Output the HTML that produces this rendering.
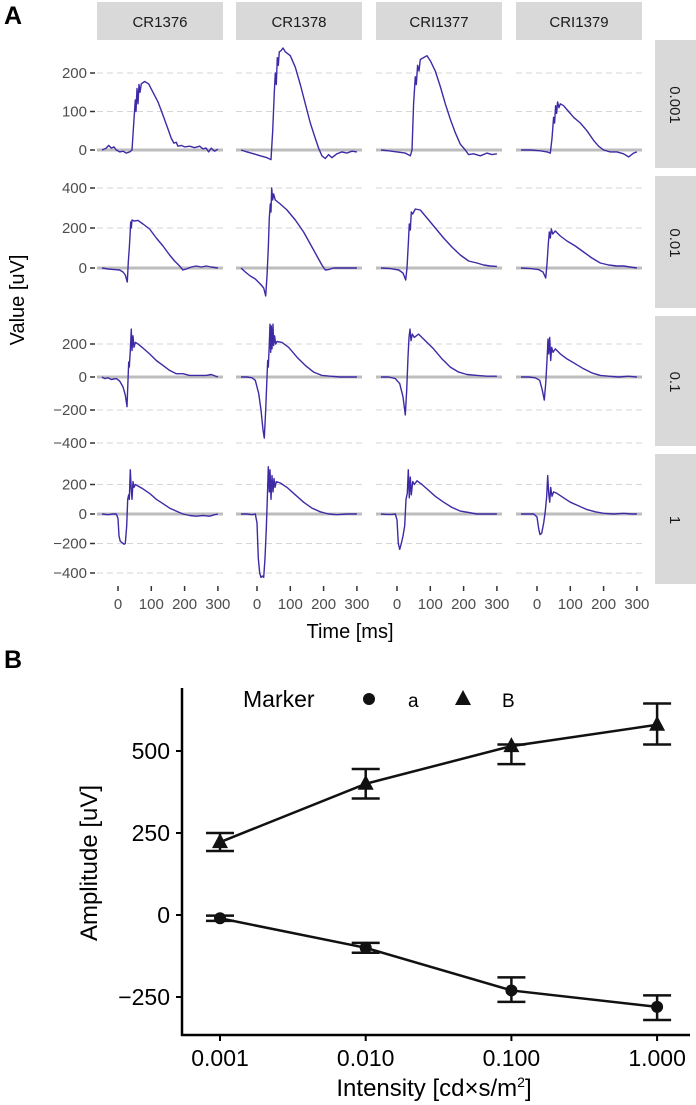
<!DOCTYPE html>
<html><head><meta charset="utf-8">
<style>
html,body{margin:0;padding:0;background:#fff;overflow:hidden;}
svg{display:block;font-family:"Liberation Sans",sans-serif;}
</style></head>
<body>
<svg id="fig" width="696" height="1105" viewBox="0 0 696 1105">
<text x="4" y="24" font-size="25" font-weight="bold" fill="#000">A</text>
<text x="4" y="668" font-size="25" font-weight="bold" fill="#000">B</text>
<g id="pa"></g>
<g id="pb"></g>
</svg>
<script>
const NS="http://www.w3.org/2000/svg";
const columns=["CR1376","CR1378","CRI1377","CRI1379"];
const rowLabels=["0.001","0.01","0.1","1"];
const timeTicks=[0,100,200,300];
const rowTicks=[[0,100,200],[0,200,400],[200,0,-200,-400],[200,0,-200,-400]];
// waveforms [time, value] per row, per column
const waves=[
[
 [[-48,0],[-35,5],[-28,12],[-20,5],[-12,8],[-5,0],[5,-5],[15,-3],[25,-8],[35,-5],[42,0],[48,80],[52,130],[54,100],[57,160],[60,120],[63,170],[66,150],[70,172],[80,178],[92,172],[105,150],[120,125],[135,90],[150,55],[160,30],[168,18],[175,20],[180,10],[190,12],[200,8],[215,10],[230,6],[245,10],[255,3],[265,5],[272,-5],[280,5],[290,-3],[300,2]],
 [[-48,0],[-30,-5],[-10,-10],[10,-15],[30,-20],[42,-25],[47,50],[52,150],[55,200],[58,170],[61,240],[64,220],[67,255],[72,258],[78,265],[85,255],[100,245],[115,215],[130,170],[145,120],[160,70],[175,30],[185,5],[195,-15],[205,-22],[215,-12],[225,-20],[240,-10],[255,-5],[270,-8],[285,-3],[300,-5]],
 [[-48,0],[-25,-2],[0,-5],[25,-8],[40,-15],[45,0],[50,120],[55,190],[58,170],[62,220],[66,205],[70,235],[80,240],[90,245],[100,232],[115,205],[130,165],[145,120],[160,80],[175,45],[190,15],[205,0],[215,-12],[230,-10],[250,-15],[270,-8],[285,-12],[300,-10]],
 [[-48,0],[-20,0],[10,-2],[30,-5],[40,-8],[45,30],[50,85],[53,70],[56,115],[59,95],[62,125],[66,110],[70,120],[80,115],[95,100],[110,85],[130,70],[150,50],[170,25],[185,10],[200,0],[220,-5],[240,-5],[260,-10],[275,-18],[290,-8],[300,-5]]
],
[
 [[-48,0],[-30,-5],[-10,-8],[5,-10],[15,-20],[22,-35],[28,-70],[31,30],[34,100],[36,160],[38,230],[40,200],[42,240],[48,235],[60,238],[75,220],[95,195],[115,150],[135,110],[155,65],[170,35],[185,10],[195,-10],[205,-5],[220,5],[235,10],[250,5],[265,10],[280,5],[300,0]],
 [[-48,0],[-35,-20],[-20,-40],[-5,-55],[10,-80],[20,-100],[26,-140],[30,-40],[34,100],[37,250],[40,320],[42,280],[44,400],[47,340],[50,370],[55,340],[70,320],[90,290],[115,240],[140,180],[160,120],[180,60],[195,15],[205,-10],[215,-8],[230,0],[250,0],[270,0],[300,0]],
 [[-48,0],[-20,-3],[5,-10],[18,-25],[26,-60],[30,0],[34,120],[37,220],[40,190],[43,280],[47,270],[55,295],[70,290],[90,250],[115,200],[140,150],[165,105],[190,65],[215,35],[240,25],[260,15],[280,10],[300,8]],
 [[-48,0],[-20,-3],[5,-8],[18,-20],[26,-50],[30,20],[34,120],[37,180],[40,150],[43,195],[47,170],[55,185],[70,160],[90,135],[115,110],[140,80],[165,50],[190,25],[215,15],[240,10],[260,10],[280,5],[300,0]]
]
,
[
 [[-48,0],[-40,-10],[-30,-5],[-20,-15],[-5,-10],[5,-25],[15,-60],[22,-110],[27,-180],[30,-20],[32,90],[34,60],[37,160],[40,290],[42,160],[45,250],[48,180],[52,210],[60,200],[75,175],[95,140],[115,100],[135,70],[155,40],[175,20],[195,20],[215,10],[240,10],[265,10],[280,15],[300,0]],
 [[-48,0],[-30,0],[-15,-5],[-5,-20],[5,-100],[12,-200],[18,-320],[22,-370],[26,-200],[30,0],[32,100],[34,60],[37,200],[39,320],[41,150],[43,310],[45,170],[48,320],[50,190],[53,250],[56,200],[60,215],[75,210],[95,180],[120,120],[145,70],[170,30],[195,10],[220,5],[250,0],[275,0],[300,0]],
 [[-48,0],[-25,0],[-5,-10],[8,-40],[18,-120],[25,-230],[29,-80],[33,120],[36,240],[39,290],[42,220],[46,260],[52,240],[65,260],[85,220],[110,170],[135,110],[160,60],[185,30],[210,15],[240,10],[270,5],[300,5]],
 [[-48,0],[-25,0],[-5,-5],[8,-20],[16,-80],[22,-140],[26,-40],[30,100],[33,230],[35,140],[38,240],[41,100],[44,180],[48,150],[55,170],[70,140],[90,110],[115,80],[140,50],[165,25],[190,10],[215,5],[245,0],[275,5],[300,0]]
],
[
 [[-48,0],[-30,-5],[-15,0],[-5,0],[0,-30],[3,-150],[7,-185],[13,-195],[18,-205],[22,-200],[26,-80],[29,100],[32,130],[34,100],[37,300],[40,160],[42,100],[45,220],[48,180],[52,200],[60,190],[75,170],[95,140],[115,100],[135,70],[155,40],[175,20],[195,0],[215,-10],[235,-15],[255,-10],[275,-15],[290,-5],[300,0]],
 [[-48,0],[-30,0],[-15,-5],[-5,0],[0,-60],[4,-300],[8,-400],[12,-430],[16,-420],[20,-430],[24,-300],[28,-100],[31,100],[34,320],[37,150],[39,300],[42,100],[45,260],[48,150],[51,240],[54,180],[58,220],[70,210],[90,180],[115,130],[140,80],[165,40],[190,15],[215,0],[240,-5],[270,0],[300,0]],
 [[-48,0],[-30,-3],[-15,-3],[-5,0],[0,-40],[4,-200],[8,-240],[13,-200],[18,-150],[23,-80],[27,100],[31,140],[34,300],[37,110],[40,250],[43,130],[47,220],[52,200],[60,225],[75,200],[95,160],[115,120],[140,80],[165,45],[190,20],[215,10],[240,0],[270,0],[300,0]],
 [[-48,0],[-30,0],[-10,0],[0,-20],[5,-100],[9,-140],[14,-130],[20,-60],[25,20],[29,120],[32,260],[35,140],[38,80],[41,180],[45,120],[50,150],[60,140],[80,110],[100,80],[125,55],[150,30],[175,15],[200,5],[230,0],[260,5],[285,0],[300,0]]
]
];
// panel B data
const intensities=["0.001","0.010","0.100","1.000"];
const bMean=[222,400,515,580];
const bLo=[195,355,460,520];
const bHi=[250,445,520,645];
const aMean=[-10,-100,-230,-280];
const aLo=[-18,-115,-265,-320];
const aHi=[-2,-85,-190,-245];
const ampTicks=[500,250,0,-250];

function el(tag,attrs,parent,text){const e=document.createElementNS(NS,tag);for(const k in attrs)e.setAttribute(k,attrs[k]);if(text!==undefined)e.textContent=text;parent.appendChild(e);return e;}

const pa=document.getElementById('pa');
const colX=[97,236,376,516], colW=126;
const rowTop=[42,178,318,456], rowBot=[168,308,446,584];
const rowZero=[150,268,377,514], rowK=[0.385,0.2,0.165,0.1475];
const tx=(c,t)=>colX[c]+21+(t)*0.333;
const vy=(r,v)=>rowZero[r]-v*rowK[r];

columns.forEach((name,c)=>{
  const g=el('g',{},pa);
  
  
  el('rect',{x:colX[c],y:2,width:colW,height:38,fill:'#d9d9d9'},g);
  el('text',{x:colX[c]+colW/2,y:27,'font-size':15,fill:'#1a1a1a','text-anchor':'middle'},g,name);
});
rowLabels.forEach((lab,r)=>{
  const g=el('g',{},pa);
  
  
  el('rect',{x:655,y:rowTop[r]-2,width:41,height:rowBot[r]-rowTop[r]+2,fill:'#d9d9d9'},g);
  const cy=(rowTop[r]+rowBot[r])/2;
  el('text',{x:670,y:cy,'font-size':15,fill:'#1a1a1a','text-anchor':'middle',transform:`rotate(90 670 ${cy})`},g,lab);
  rowTicks[r].forEach(v=>{
    const y=vy(r,v);
    const t=el('text',{x:87,y:y+5,'font-size':15,fill:'#4d4d4d','text-anchor':'end'},pa,String(v).replace('-','\u2212'));
    
    
    el('line',{x1:90,x2:95,y1:y,y2:y,stroke:'#333','stroke-width':1.5},pa);
  });
  columns.forEach((name,c)=>{
    const pg=el('g',{},pa);
    
    
    rowTicks[r].forEach(v=>{
      if(v!==0) el('line',{x1:colX[c],x2:colX[c]+colW,y1:vy(r,v),y2:vy(r,v),stroke:'#d6d6d6','stroke-width':1,'stroke-dasharray':'6,4'},pg);
    });
    el('line',{x1:colX[c],x2:colX[c]+colW,y1:vy(r,0),y2:vy(r,0),stroke:'#bdbdbd','stroke-width':3},pg);
    const pts=waves[r][c].map(p=>tx(c,p[0]).toFixed(1)+','+vy(r,p[1]).toFixed(1)).join(' ');
    const pl=el('polyline',{points:pts,fill:'none',stroke:'#3f2aa6','stroke-width':1.4,'stroke-linejoin':'round'},pg);
    
    
  });
});
columns.forEach((name,c)=>{
  timeTicks.forEach(t=>{
    const x=tx(c,t);
    el('line',{x1:x,x2:x,y1:586,y2:591,stroke:'#333','stroke-width':1.5},pa);
    const l=el('text',{x:x,y:609,'font-size':15,fill:'#4d4d4d','text-anchor':'middle'},pa,String(t));
    
    
  });
});
const yt=el('text',{x:24,y:300,'font-size':20,fill:'#000','text-anchor':'middle',transform:'rotate(-90 24 300)'},pa,'Value [uV]');


const xt=el('text',{x:350,y:638,'font-size':20,fill:'#000','text-anchor':'middle'},pa,'Time [ms]');



// Panel B
const pb=document.getElementById('pb');
const bx=i=>220+i*145.7;
const by=v=>915-v*0.328;
el('line',{x1:182,x2:182,y1:688,y2:1036,stroke:'#000','stroke-width':2.5},pb);
el('line',{x1:181,x2:690,y1:1035,y2:1035,stroke:'#000','stroke-width':2.5},pb);
ampTicks.forEach(v=>{
  el('line',{x1:176,x2:182,y1:by(v),y2:by(v),stroke:'#000','stroke-width':2},pb);
  const t=el('text',{x:170,y:by(v)+8,'font-size':23,fill:'#000','text-anchor':'end'},pb,String(v).replace('-','\u2212'));
  
  
});
intensities.forEach((s,i)=>{
  el('line',{x1:bx(i),x2:bx(i),y1:1035,y2:1041,stroke:'#000','stroke-width':2},pb);
  const t=el('text',{x:bx(i),y:1066,'font-size':23,fill:'#000','text-anchor':'middle'},pb,s);
  
  
});
function series(mean,lo,hi,shape,name){
  const g=el('g',{},pb);
  
  
  el('polyline',{points:mean.map((v,i)=>bx(i)+','+by(v)).join(' '),fill:'none',stroke:'#111','stroke-width':2.5},g);
  mean.forEach((v,i)=>{
    const x=bx(i);
    el('line',{x1:x,x2:x,y1:by(lo[i]),y2:by(hi[i]),stroke:'#111','stroke-width':2.5},g);
    el('line',{x1:x-14,x2:x+14,y1:by(lo[i]),y2:by(lo[i]),stroke:'#111','stroke-width':2.5},g);
    el('line',{x1:x-14,x2:x+14,y1:by(hi[i]),y2:by(hi[i]),stroke:'#111','stroke-width':2.5},g);
    const y=by(v);
    if(shape==='c'){const m=el('circle',{cx:x,cy:y,r:6,fill:'#111'},g);}
    else{const m=el('polygon',{points:`${x},${y-9} ${x-8},${y+6} ${x+8},${y+6}`,fill:'#111'},g);}
  });
}
series(bMean,bLo,bHi,'t','series-b-wave');
series(aMean,aLo,aHi,'c','series-a-wave');
const lg=el('g',{},pb);


el('text',{x:243,y:707,'font-size':23,fill:'#000'},lg,'Marker');
el('circle',{cx:369,cy:699,r:6,fill:'#111'},lg);
el('text',{x:408,y:707,'font-size':19,fill:'#000'},lg,'a');
el('polygon',{points:'463,690 455,705 471,705',fill:'#111'},lg);
el('text',{x:502,y:707,'font-size':19,fill:'#000'},lg,'B');
const at=el('text',{x:97,y:863,'font-size':24,fill:'#000','text-anchor':'middle',transform:'rotate(-90 97 863)'},pb,'Amplitude [uV]');


const it=el('text',{x:434,y:1096,'font-size':24,fill:'#000','text-anchor':'middle'},pb);


it.textContent='Intensity [cd×s/m';
el('tspan',{dy:-9,'font-size':14},it,'2');
el('tspan',{dy:9},it,']');
</script>
</body></html>
